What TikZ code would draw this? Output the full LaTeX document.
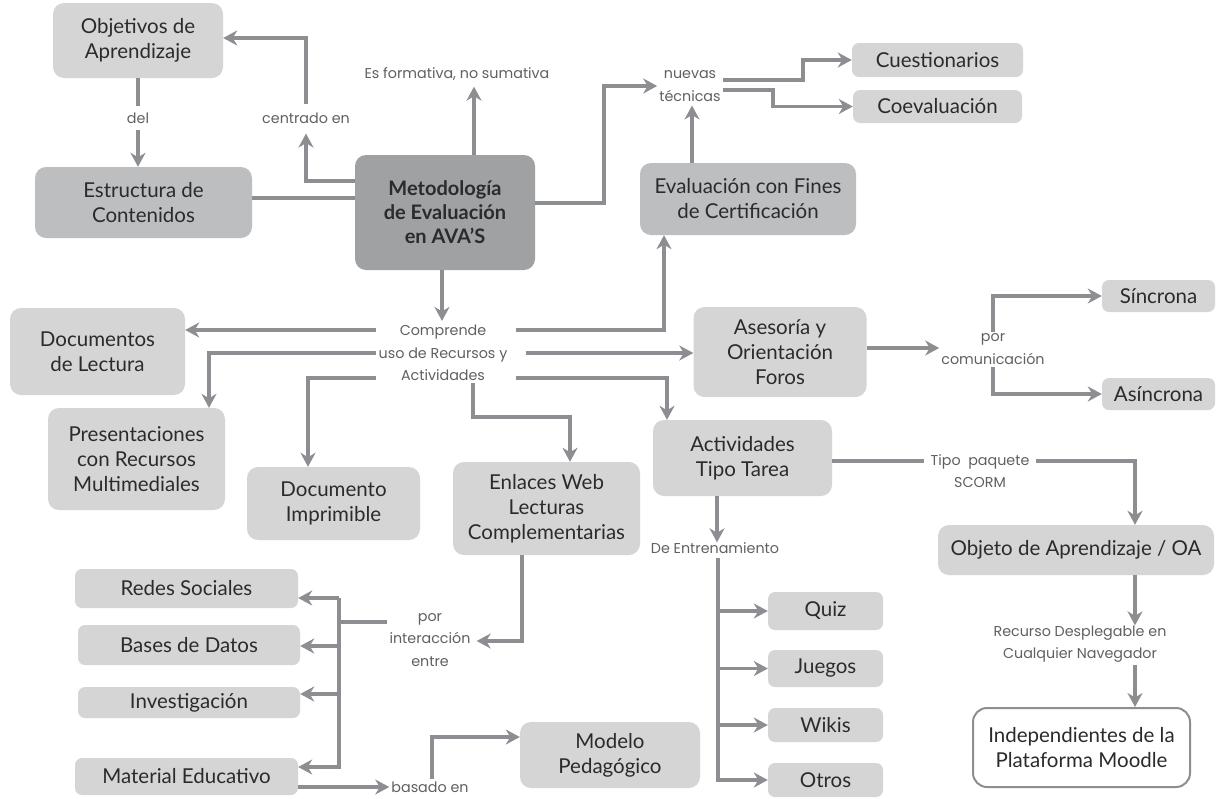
\documentclass[tikz,border=0pt]{standalone}
\usepackage{fontspec}
\usetikzlibrary{arrows.meta,calc}
\newfontfamily\boxfont{Lato}
\newfontfamily\lblfont{Poppins}
\definecolor{boxlight}{HTML}{D5D5D6}
\definecolor{boxmid}{HTML}{BDBEC0}
\definecolor{boxdark}{HTML}{A0A1A3}
\definecolor{wire}{HTML}{8D8E91}
\definecolor{txt}{HTML}{2B2B2B}
\definecolor{lbl}{HTML}{606060}
\tikzset{
  box/.style={rounded corners=11pt, fill=boxlight, text=txt, align=center,
    font=\boxfont\fontsize{20.5}{25}\selectfont, inner sep=0pt},
  smallbox/.style={box, rounded corners=7pt},
  midbox/.style={box, fill=boxmid},
  darkbox/.style={box, fill=boxdark, font=\boxfont\bfseries\fontsize{20}{24}\selectfont},
  openbox/.style={box, fill=white, draw=wire, line width=2pt, rounded corners=14pt},
  lab/.style={text=lbl, align=center, font=\lblfont\fontsize{14.3}{22.5}\selectfont, inner sep=2pt},
  ln/.style={draw=wire, line width=3.2pt},
  arr/.style={ln, -{Stealth[length=14pt,width=15pt,inset=4.5pt]}}
}
\begin{document}
\begin{tikzpicture}[x=1pt,y=-1pt]
\fill[white] (0,0) rectangle (1220,798);
\useasboundingbox (0,0) rectangle (1220,798);

% concept boxes
\node[box, minimum width=170, minimum height=75] (obj) at (138,40.5) {Objetivos de\\Aprendizaje};
\node[midbox, minimum width=217, minimum height=71] (estr) at (143.5,202.5) {Estructura de\\Contenidos};
\node[darkbox, minimum width=180, minimum height=115] (main) at (445,212.5) {Metodología\\de Evaluación\\en AVA’S};
\node[midbox, minimum width=216, minimum height=72] (evalc) at (748,199) {Evaluación con Fines\\de Certificación};
\node[smallbox, minimum width=171, minimum height=34] (cuest) at (937.5,60) {Cuestionarios};
\node[smallbox, minimum width=169, minimum height=33] (coev) at (937.5,106.5) {Coevaluación};
\node[box, minimum width=175, minimum height=87] (doclec) at (97.5,351.5) {Documentos\\de Lectura};
\node[box, minimum width=173, minimum height=90] (ases) at (780,352) {Asesoría y\\Orientación\\Foros};
\node[smallbox, minimum width=113, minimum height=32] (sinc) at (1158.5,296) {Síncrona};
\node[smallbox, minimum width=113, minimum height=32] (asinc) at (1158.5,394) {Asíncrona};
\node[box, minimum width=177, minimum height=102] (pres) at (136.5,459) {Presentaciones\\con Recursos\\Multimediales};
\node[box, minimum width=173, minimum height=73] (docimp) at (333.5,503.5) {Documento\\Imprimible};
\node[box, minimum width=187, minimum height=93] (enl) at (546.5,508.5) {Enlaces Web\\Lecturas\\Complementarias};
\node[box, minimum width=179, minimum height=76] (activ) at (742.5,458) {Actividades\\Tipo Tarea};
\node[box, minimum width=276, minimum height=50] (objeto) at (1076,550) {Objeto de Aprendizaje / OA};
\node[smallbox, minimum width=223, minimum height=39] (redes) at (186.5,588.5) {Redes Sociales};
\node[smallbox, minimum width=222, minimum height=40] (bases) at (189,645) {Bases de Datos};
\node[smallbox, minimum width=222, minimum height=31] (inv) at (189,702.5) {Investigación};
\node[smallbox, minimum width=223, minimum height=37] (mat) at (186.5,776.5) {Material Educativo};
\node[smallbox, minimum width=115, minimum height=38] (quiz) at (825.5,611) {Quiz};
\node[smallbox, minimum width=115, minimum height=37] (juegos) at (825.5,668.5) {Juegos};
\node[smallbox, minimum width=115, minimum height=34] (wikis) at (825.5,725) {Wikis};
\node[smallbox, minimum width=115, minimum height=34] (otros) at (825.5,780) {Otros};
\node[box, minimum width=180, minimum height=66] (modelo) at (610,755) {Modelo\\Pedagógico};
\node[openbox, minimum width=217, minimum height=79] (indep) at (1081.5,747.5) {Independientes de la\\Plataforma Moodle};

% linking phrases
\node[lab] (del) at (138,118) {del};
\node[lab] (centr) at (306,118) {centrado en};
\node[lab] (esform) at (457,74) {Es formativa, no sumativa};
\node[lab] (nuevas) at (690,86) {nuevas\\técnicas};
\node[lab] (compr) at (443,353) {Comprende\\uso de Recursos y\\Actividades};
\node[lab] (porcom) at (993,349) {por\\comunicación};
\node[lab] (tipo) at (980,471) {Tipo\ \ paquete\\SCORM};
\node[lab] (deentr) at (715,548) {De Entrenamiento};
\node[lab] (porint) at (430,640) {por\\interacción\\entre};
\node[lab] (recurso) at (1080,644) {Recurso Desplegable en\\Cualquier Navegador};
\node[lab] (basado) at (430,787) {basado en};

% connectors around the central concept
\draw[arr] (main.west |- 0,181) -| ([yshift=-8pt]centr.south);
\draw[arr] ([yshift=6pt]centr.north) |- (obj.east |- 0,38);
\draw[ln] (obj.south -| del) -- ([yshift=4pt]del.north);
\draw[arr] ([yshift=-4pt]del.south) -- (estr.north -| del);
\draw[ln] (estr.east |- 0,198) -- (main.west |- 0,198);
\draw[arr] (main.north -| 474,0) -- ([yshift=-4pt]esform.south -| 474,0);
\draw[arr] (main.east |- 0,203) -- (604,203) |- (nuevas.west);
\draw[arr] ([yshift=6pt]nuevas.east) -- (803,80) |- (cuest.west);
\draw[arr] ([yshift=-4pt]nuevas.east) -- (773,90) |- (coev.west);
\draw[arr] (evalc.north -| 692,0) -- ([yshift=-2pt]nuevas.south -| 692,0);
\draw[arr] (main.south -| 442,0) -- ([yshift=2pt]compr.north -| 442,0);

% resources and activities
\draw[arr] (compr.west |- 0,330) -- (doclec.east |- 0,330);
\draw[arr] (compr.west |- 0,353) -| (pres.north -| 209,0);
\draw[arr] (compr.west |- 0,378) -| (docimp.north -| 308,0);
\draw[arr] ([xshift=6pt]compr.east |- 0,330) -| (evalc.south -| 664,0);
\draw[arr] ([xshift=16pt]compr.east |- 0,353) -- (ases.west |- 0,353);
\draw[arr] ([xshift=6pt]compr.east |- 0,378) -| (activ.north -| 667,0);
\draw[arr] (compr.south -| 473,0) |- (570,417) -- (enl.north -| 570,0);

% communication
\draw[arr] (ases.east |- 0,348) -- (porcom.west |- 0,348);
\draw[arr] (porcom.north -| 993,0) |- (sinc.west);
\draw[arr] (porcom.south -| 993,0) |- (asinc.west);

% SCORM package
\draw[ln] (activ.east |- 0,461) -- ([xshift=-4pt]tipo.west |- 0,461);
\draw[arr] ([xshift=4pt]tipo.east |- 0,461) -| (objeto.north -| 1135,0);
\draw[arr] (objeto.south -| 1135,0) -- ([yshift=-2pt]recurso.north -| 1135,0);
\draw[arr] (recurso.south -| 1135,0) -- (indep.north -| 1135,0);

% training activities
\draw[arr] (activ.south -| 717,0) -- ([yshift=-2pt]deentr.north -| 717,0);
\draw[arr] ([yshift=-2pt]deentr.south -| 718,0) |- (otros.west);
\draw[arr] (718,0 |- quiz.west) -- (quiz.west);
\draw[arr] (718,0 |- juegos.west) -- (juegos.west);
\draw[arr] (718,0 |- wikis.west) -- (wikis.west);

% interaction
\draw[arr] (enl.south -| 522,0) |- ([xshift=4pt]porint.east |- 0,641);
\draw[ln] (porint.west |- 0,622) -- (339,622);
\draw[arr] (339,598) -- (redes.east |- 0,598);
\draw[arr] (339,646) -- (bases.east |- 0,646);
\draw[arr] (339,694) -- (inv.east |- 0,694);
\draw[arr] (339,598) -- (339,767) -- (mat.east |- 0,767);
\draw[arr] (mat.east |- 0,787) -- (basado.west);
\draw[arr] (basado.north -| 432,0) |- (modelo.west |- 0,737);
\end{tikzpicture}
\end{document}
